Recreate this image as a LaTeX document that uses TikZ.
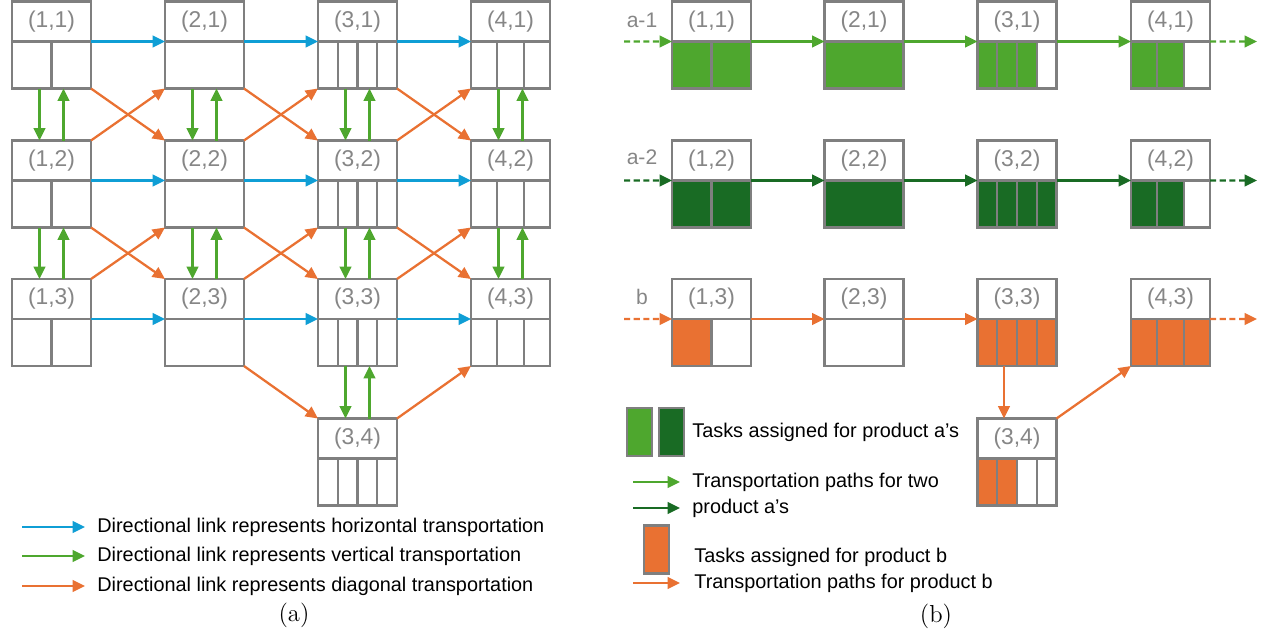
\documentclass[tikz,border=0pt]{standalone}
\usepackage{fontspec}
\setsansfont{Liberation Sans}
\usetikzlibrary{positioning,arrows.meta}

\definecolor{hblue}{HTML}{0F9ED5}
\definecolor{lgreen}{HTML}{4EA72E}
\definecolor{dgreen}{HTML}{196B24}
\definecolor{dorange}{HTML}{E97132}
\definecolor{framegray}{HTML}{7F7F7F}
\definecolor{labelgray}{HTML}{868686}

% one unit: header with its index, body split into task slots
% #1 name, #2 position, #3 label, #4 slots, #5 filled slots, #6 fill colour
\newcommand{\unitbox}[6]{%
  \node[head] (#1) at (#2) {#3};
  \node[body, below=0pt of #1] (#1s) {};
  \ifnum#5>0\relax
    \foreach \k in {1,...,#5}
      \fill[#6] (#1s.south west) ++({(\k-1)*1.58/#4},0) rectangle ++({1.58/#4},0.94);
  \fi
  \foreach \k in {1,...,#4}
    \draw[frame] (#1s.south west) ++({(\k-1)*1.58/#4},0) rectangle ++({1.58/#4},0.94);
}

\begin{document}
\begin{tikzpicture}[
    head/.style={rectangle, draw=framegray, line width=1.3pt, minimum width=1.58cm, minimum height=0.8cm,
      inner sep=0pt, outer sep=0pt, text=labelgray, font=\sffamily\fontsize{13}{15}\selectfont},
    body/.style={rectangle, draw=framegray, line width=1.3pt, minimum width=1.58cm, minimum height=0.94cm,
      inner sep=0pt, outer sep=0pt},
    frame/.style={draw=framegray, line width=1.3pt},
    link/.style={line width=1.3pt, -{Triangle[length=7pt,width=6.5pt]}},
    hlink/.style={link, hblue},
    vlink/.style={link, lgreen},
    dlink/.style={link, dorange},
    alink/.style={link, lgreen},
    aalink/.style={link, dgreen},
    blink/.style={link, dorange},
    open/.style={dash pattern=on 3.5pt off 2pt},
    tag/.style={text=labelgray, font=\sffamily\fontsize{12}{14}\selectfont, inner sep=0pt},
    key/.style={anchor=west, inner sep=0pt, font=\sffamily\fontsize{11.3}{13}\selectfont},
    swatch/.style={rectangle, draw=framegray, line width=1.6pt, minimum width=0.5cm, minimum height=0.96cm, inner sep=0pt}]

    \useasboundingbox (0,0) rectangle (25.56,-12.66);

    % (a) full grid of units
    \unitbox{g11}{1.03,-0.43}{(1,1)}{2}{0}{white}
    \unitbox{g21}{4.09,-0.43}{(2,1)}{1}{0}{white}
    \unitbox{g31}{7.15,-0.43}{(3,1)}{4}{0}{white}
    \unitbox{g41}{10.21,-0.43}{(4,1)}{3}{0}{white}
    \unitbox{g12}{1.03,-3.21}{(1,2)}{2}{0}{white}
    \unitbox{g22}{4.09,-3.21}{(2,2)}{1}{0}{white}
    \unitbox{g32}{7.15,-3.21}{(3,2)}{4}{0}{white}
    \unitbox{g42}{10.21,-3.21}{(4,2)}{3}{0}{white}
    \unitbox{g13}{1.03,-5.98}{(1,3)}{2}{0}{white}
    \unitbox{g23}{4.09,-5.98}{(2,3)}{1}{0}{white}
    \unitbox{g33}{7.15,-5.98}{(3,3)}{4}{0}{white}
    \unitbox{g43}{10.21,-5.98}{(4,3)}{3}{0}{white}
    \unitbox{g34}{7.15,-8.77}{(3,4)}{4}{0}{white}

    \foreach \r in {1,2,3}
      \foreach \i/\j in {1/2,2/3,3/4}
        \draw[hlink] (g\i\r s.north east) -- (g\j\r s.north west);

    \foreach \i in {1,...,4}
      \foreach \r/\q in {1/2,2/3} {
        \draw[vlink] ([xshift=-0.24cm]g\i\r s.south) -- ([xshift=-0.24cm]g\i\q.north);
        \draw[vlink] ([xshift=0.24cm]g\i\q.north) -- ([xshift=0.24cm]g\i\r s.south);
      }
    \draw[vlink] ([xshift=-0.24cm]g33s.south) -- ([xshift=-0.24cm]g34.north);
    \draw[vlink] ([xshift=0.24cm]g34.north) -- ([xshift=0.24cm]g33s.south);

    \foreach \i/\j in {1/2,2/3,3/4}
      \foreach \r/\q in {1/2,2/3} {
        \draw[dlink] (g\i\r s.south east) -- (g\j\q.north west);
        \draw[dlink] (g\i\q.north east) -- (g\j\r s.south west);
      }
    \draw[dlink] (g23s.south east) -- (g34.north west);
    \draw[dlink] (g34.north east) -- (g43s.south west);

    % legend (a)
    \node[key] (keyh) at (1.94,-10.54) {Directional link represents horizontal transportation};
    \node[key] (keyv) at (1.94,-11.12) {Directional link represents vertical transportation};
    \node[key] (keyd) at (1.94,-11.72) {Directional link represents diagonal transportation};
    \coordinate (kh) at (0.44,-10.54);
    \coordinate (kv) at (0.44,-11.12);
    \coordinate (kd) at (0.44,-11.72);
    \draw[hlink] (kh) -- ([xshift=-0.24cm]keyh.west);
    \draw[vlink] (kv) -- ([xshift=-0.24cm]keyv.west);
    \draw[dlink] (kd) -- ([xshift=-0.24cm]keyd.west);
    \node (capa) at (5.88,-12.30) {\fontsize{14}{16}\selectfont(a)};

    % (b) paths of the products
    \unitbox{p11}{14.23,-0.43}{(1,1)}{2}{2}{lgreen}
    \unitbox{p21}{17.28,-0.43}{(2,1)}{1}{1}{lgreen}
    \unitbox{p31}{20.34,-0.43}{(3,1)}{4}{3}{lgreen}
    \unitbox{p41}{23.41,-0.43}{(4,1)}{3}{2}{lgreen}
    \unitbox{p12}{14.23,-3.21}{(1,2)}{2}{2}{dgreen}
    \unitbox{p22}{17.28,-3.21}{(2,2)}{1}{1}{dgreen}
    \unitbox{p32}{20.34,-3.21}{(3,2)}{4}{4}{dgreen}
    \unitbox{p42}{23.41,-3.21}{(4,2)}{3}{2}{dgreen}
    \unitbox{p13}{14.23,-5.98}{(1,3)}{2}{1}{dorange}
    \unitbox{p23}{17.28,-5.98}{(2,3)}{1}{0}{white}
    \unitbox{p33}{20.34,-5.98}{(3,3)}{4}{4}{dorange}
    \unitbox{p43}{23.41,-5.98}{(4,3)}{3}{3}{dorange}
    \unitbox{p34}{20.34,-8.77}{(3,4)}{4}{2}{dorange}

    \node[tag] (tagA1) at (12.84,-0.40) {a-1};
    \node[tag] (tagA2) at (12.84,-3.14) {a-2};
    \node[tag] (tagB) at (12.84,-5.94) {b};

    \coordinate (in1) at (12.48,-0.83);
    \coordinate (in2) at (12.48,-3.61);
    \coordinate (in3) at (12.48,-6.38);
    \coordinate (out1) at (25.14,-0.83);
    \coordinate (out2) at (25.14,-3.61);
    \coordinate (out3) at (25.14,-6.38);

    \draw[alink, open] (in1) -- (p11s.north west);
    \draw[alink] (p11s.north east) -- (p21s.north west);
    \draw[alink] (p21s.north east) -- (p31s.north west);
    \draw[alink] (p31s.north east) -- (p41s.north west);
    \draw[alink, open] (p41s.north east) -- (out1);

    \draw[aalink, open] (in2) -- (p12s.north west);
    \draw[aalink] (p12s.north east) -- (p22s.north west);
    \draw[aalink] (p22s.north east) -- (p32s.north west);
    \draw[aalink] (p32s.north east) -- (p42s.north west);
    \draw[aalink, open] (p42s.north east) -- (out2);

    \draw[blink, open] (in3) -- (p13s.north west);
    \draw[blink] (p13s.north east) -- (p23s.north west);
    \draw[blink] (p23s.north east) -- (p33s.north west);
    \draw[blink] ([xshift=-0.26cm]p33s.south) -- ([xshift=-0.26cm]p34.north);
    \draw[blink] (p34.north east) -- (p43s.south west);
    \draw[blink, open] (p43s.north east) -- (out3);

    % legend (b)
    \node[swatch, fill=lgreen] (swA1) at (12.79,-8.64) {};
    \node[swatch, fill=dgreen] (swA2) at (13.43,-8.64) {};
    \node[swatch, fill=dorange] (swB) at (13.13,-10.99) {};
    \node[key] (keyA) at (13.84,-8.64) {Tasks assigned for product a’s};
    \node[key] (keyP1) at (13.84,-9.64) {Transportation paths for two};
    \node[key] (keyP2) at (13.84,-10.16) {product a’s};
    \node[key] (keyB) at (13.88,-11.14) {Tasks assigned for product b};
    \node[key] (keyPB) at (13.88,-11.66) {Transportation paths for product b};
    \coordinate (ka1) at (12.66,-9.64);
    \coordinate (ka2) at (12.66,-10.16);
    \coordinate (kb) at (12.66,-11.66);
    \draw[alink] (ka1) -- ([xshift=-0.24cm]keyP1.west);
    \draw[aalink] (ka2) -- ([xshift=-0.24cm]keyP2.west);
    \draw[blink] (kb) -- ([xshift=-0.28cm]keyPB.west);
    \node (capb) at (18.72,-12.32) {\fontsize{14}{16}\selectfont(b)};
\end{tikzpicture}
\end{document}
